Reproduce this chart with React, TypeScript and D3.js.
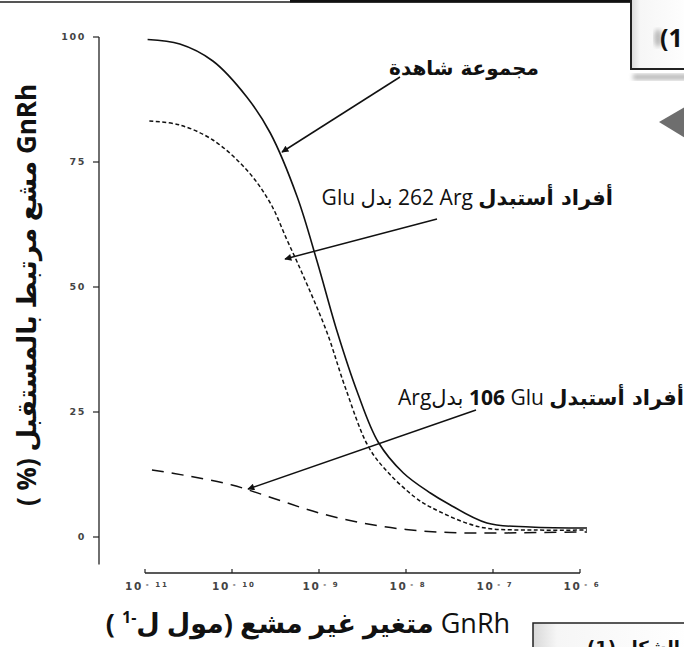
import React from 'react';
import * as d3 from 'd3';

// log10 of GnRh concentration (mol/L) and % bound
const controlLogC = [-10.97, -10.6, -10.22, -9.83, -9.56, -9.25, -9.02, -8.79, -8.56, -8.32, -8.03, -7.72, -7.53, -7.07, -6.57, -5.92];
const controlPct = [99.5, 98.6, 95.2, 88, 80.8, 68, 55, 41, 29, 19, 12.8, 8.8, 6.8, 2.8, 2.0, 1.8];

const arg262LogC = [-10.95, -10.6, -10.22, -9.83, -9.56, -9.37, -9.2, -8.91, -8.7, -8.43, -8.2, -7.9, -7.72, -7.15, -6.5, -5.92];
const arg262Pct = [83.2, 82.4, 79.4, 73.4, 66.8, 59.5, 53, 41, 30, 18, 12.8, 8, 6, 2, 1.4, 1.4];

const glu106LogC = [-10.92, -10.5, -10.0, -9.5, -9.0, -8.5, -8.0, -7.5, -7.0, -6.5, -5.92];
const glu106Pct = [13.4, 12.2, 10.4, 7.6, 4.8, 2.8, 1.5, 0.9, 0.8, 0.9, 1.0];

const yTicks = [0, 25, 50, 75, 100];
const xTickExps = [-11, -10, -9, -8, -7, -6];

const yTitle = 'GnRh مشع مرتبط بالمستقبل (% )';
const controlLabel = 'مجموعة شاهدة';

const arabicFont = "'DejaVu Sans', sans-serif";
const latinFont = "'Open Sans', 'DejaVu Sans', sans-serif";
const tickFont = "'DejaVu Sans', sans-serif";

export default function App() {
  const width = 684;
  const height = 647;
  const x = d3.scaleLog().domain([1e-11, 1e-6]).range([145, 580]);
  const y = d3.scaleLinear().domain([0, 100]).range([537, 37]);

  const line = d3.line<[number, number]>()
    .x((d) => x(Math.pow(10, d[0])))
    .y((d) => y(d[1]))
    .curve(d3.curveCatmullRom.alpha(0.5));

  const zip = (a: number[], b: number[]) => a.map((v, i) => [v, b[i]] as [number, number]);
  const axisY = 573;

  return (
    <svg
      width={width}
      height={height}
      style={{ position: 'absolute', left: 0, top: 0, background: '#fff' }}
    >
      <defs>
        <marker id="head" viewBox="0 0 10 10" refX="9" refY="5" markerWidth="9" markerHeight="7"
          markerUnits="userSpaceOnUse" orient="auto">
          <path d="M0,0 L10,5 L0,10 z" fill="#111" />
        </marker>
        <linearGradient id="boxfill" x1="0" x2="1" y1="0" y2="0">
          <stop offset="0" stopColor="#d8d8d8" />
          <stop offset="0.15" stopColor="#f6f6f6" />
          <stop offset="1" stopColor="#fff" />
        </linearGradient>
        <filter id="blur"><feGaussianBlur stdDeviation="2" /></filter>
      </defs>

      {/* page decorations */}
      <line x1={0} x2={631} y1={2} y2={2} stroke="#555" strokeWidth={2} />
      <line x1={290} x2={631} y1={1} y2={1} stroke="#111" strokeWidth={3} />
      <rect x={633} y={74} width={60} height={6} fill="#bbb" filter="url(#blur)" />
      <rect x={631} y={-4} width={60} height={73} fill="url(#boxfill)" stroke="#222" strokeWidth={2} />
      <ellipse cx={658} cy={38} rx={4} ry={9} fill="#bbb" filter="url(#blur)" />
      <text x={660} y={47} fontFamily={latinFont} fontWeight="bold" fontSize={25} fill="#111">(1</text>
      <polygon points="659,122 690,104 690,141" fill="#6e6e6e" />
      <rect x={533} y={623} width={160} height={40} fill="url(#boxfill)" stroke="#222" strokeWidth={1.5} />
      <text x={680} y={654} direction="rtl" textAnchor="start" fontFamily={arabicFont} fontWeight="bold"
        fontSize={18} fill="#111">الشكل (1)</text>

      {/* y axis */}
      <line x1={99} x2={99} y1={y(100)} y2={y(-5.5)} stroke="#222" strokeWidth={1.3} />
      {yTicks.map((t) => (
        <g key={t} transform={`translate(0,${y(t)})`}>
          <line x1={93} x2={99} stroke="#222" strokeWidth={1.2} />
          <text x={86} dy="0.35em" textAnchor="end" fontFamily={tickFont} fontWeight="bold"
            fontSize={9.5} letterSpacing={1.6} fill="#444">{t}</text>
        </g>
      ))}

      {/* x axis */}
      <line x1={x(1e-11)} x2={x(1e-6)} y1={axisY} y2={axisY} stroke="#222" strokeWidth={1.3} />
      {xTickExps.map((e) => (
        <g key={e} transform={`translate(${x(Math.pow(10, e))},0)`}>
          <line y1={axisY} y2={axisY - 4} stroke="#222" strokeWidth={1.2} />
          <text x={2} y={axisY + 17} textAnchor="middle" fontFamily={tickFont} fontWeight="bold" fontSize={10.5}
            letterSpacing={1.6} fill="#444">
            10
            <tspan fontSize={7} dx={3} dy={-3} letterSpacing={2}>{`- ${Math.abs(e)}`}</tspan>
          </text>
        </g>
      ))}

      {/* axis titles */}
      <text transform="translate(36,295) rotate(-90)" direction="rtl" textAnchor="middle"
        fontFamily={latinFont} fontWeight="bold" fontSize={26} fill="#111">{yTitle}</text>
      <text x={308} y={633} direction="rtl" textAnchor="middle" fontFamily={latinFont} fontSize={27} fill="#111">
        GnRh <tspan fontWeight="bold">متغير غير مشع (مول ل</tspan>
        <tspan fontWeight="bold" fontSize={16} dy={-10}>-1</tspan>
        <tspan fontWeight="bold" dy={10}> )</tspan>
      </text>

      {/* curves */}
      <path d={line(zip(controlLogC, controlPct)) ?? ''} fill="none" stroke="#111" strokeWidth={1.6} />
      <path d={line(zip(arg262LogC, arg262Pct)) ?? ''} fill="none" stroke="#111" strokeWidth={1.5}
        strokeDasharray="4 2.5" />
      <path d={line(zip(glu106LogC, glu106Pct)) ?? ''} fill="none" stroke="#111" strokeWidth={1.5}
        strokeDasharray="12 8" />

      {/* annotations */}
      <text x={539} y={75} direction="rtl" textAnchor="start" fontFamily={arabicFont} fontWeight="bold"
        fontSize={20} fill="#111">{controlLabel}</text>
      <line x1={400} y1={77} x2={282} y2={152} stroke="#111" strokeWidth={1.5} markerEnd="url(#head)" />

      <text x={613} y={205} direction="rtl" textAnchor="start" fontFamily={latinFont} fontSize={21} fill="#111">
        <tspan fontWeight="bold" fontFamily={arabicFont}>أفراد أستبدل</tspan>
        {' Arg\u200F 262 بدل Glu'}
      </text>
      <line x1={437} y1={219} x2={285} y2={259} stroke="#111" strokeWidth={1.5} markerEnd="url(#head)" />

      <text x={684} y={405} direction="rtl" textAnchor="start" fontFamily={latinFont} fontSize={21} fill="#111">
        <tspan fontWeight="bold" fontFamily={arabicFont}>أفراد أستبدل</tspan>
        {' Glu\u200F '}
        <tspan fontWeight="bold">106</tspan>
        {' بدلArg'}
      </text>
      <line x1={476} y1={410} x2={248} y2={489} stroke="#111" strokeWidth={1.5} markerEnd="url(#head)" />
    </svg>
  );
}
